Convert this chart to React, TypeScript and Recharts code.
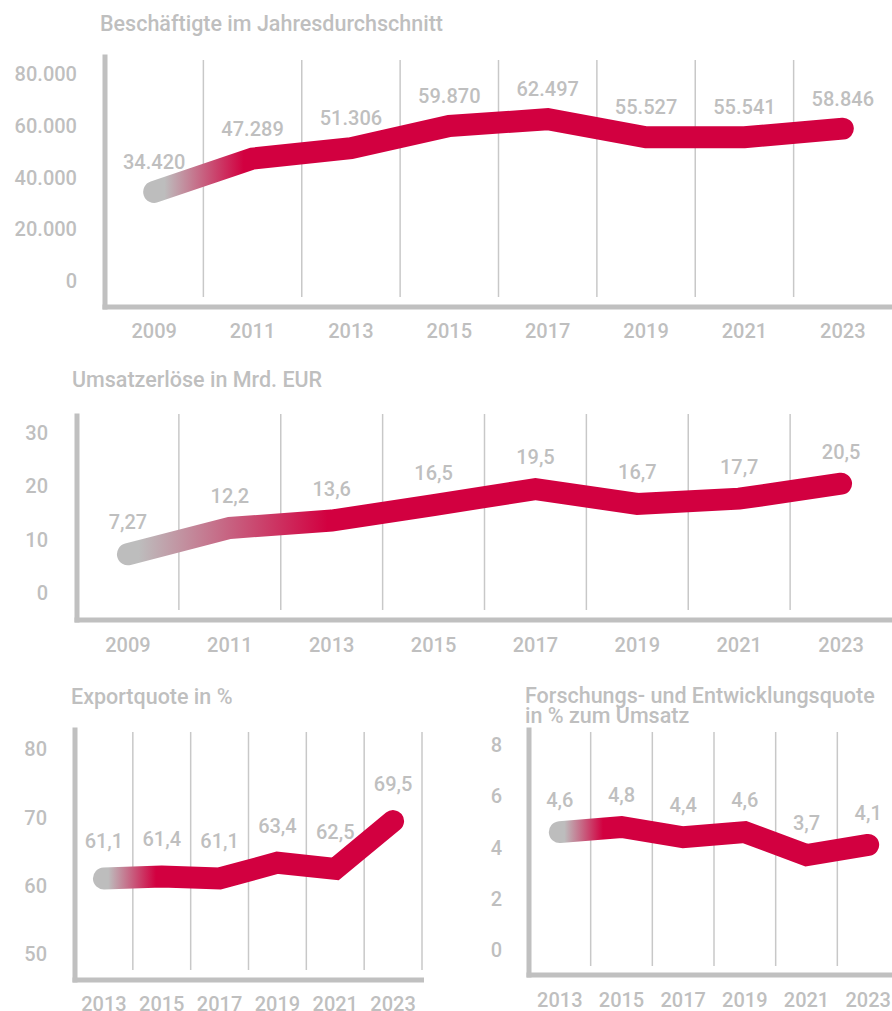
import React from 'react';
import { LineChart, Line, XAxis, YAxis, CartesianGrid, LabelList } from 'recharts';

const RED = '#d20040';
const GREY = '#bdbdbd';
const TEXT = '#bfbfbf';
const AXIS = '#c0c0c0';
const GRID = '#c8c8c8';
const FONT = 'Roboto, "Noto Sans", sans-serif';

// Beschäftigte / Umsatz: 2009–2023
const yearsLong = [2009, 2011, 2013, 2015, 2017, 2019, 2021, 2023];
const gridLong = [2010, 2012, 2014, 2016, 2018, 2020, 2022];
const employees = [34420, 47289, 51306, 59870, 62497, 55527, 55541, 58846];
const employeeTicks = [0, 20000, 40000, 60000, 80000];
const revenue = [7.27, 12.2, 13.6, 16.5, 19.5, 16.7, 17.7, 20.5];
const revenueTicks = [0, 10, 20, 30];

// Exportquote / F&E-Quote: 2013–2023
const yearsShort = [2013, 2015, 2017, 2019, 2021, 2023];
const gridExport = [2014, 2016, 2018, 2020, 2022, 2024];
const gridRnd = [2014, 2016, 2018, 2020, 2022];
const exportQuota = [61.1, 61.4, 61.1, 63.4, 62.5, 69.5];
const exportTicks = [50, 60, 70, 80];
const rndQuota = [4.6, 4.8, 4.4, 4.6, 3.7, 4.1];
const rndTicks = [0, 2, 4, 6, 8];

const fmtThousands = (v: any) => String(v).replace(/\B(?=(\d{3})+(?!\d))/g, '.');
const fmtDecimal = (v: any) => String(v).replace('.', ',');

interface PanelProps {
  id: string;
  left: number;
  top: number;
  width: number;
  height: number;
  plotTop: number;
  plotBottom: number;
  marginRight: number;
  yAxisWidth: number;
  xDomain: [number, number];
  yDomain: [number, number];
  gridTop: number;
  gridBottom: number;
  years: number[];
  values: number[];
  yTicks: number[];
  gridYears: number[];
  fmt: (v: any) => string;
  fadeEnd: number;
  labelOffset: number;
  tickGapY: number;
  tickGapX: number;
}

function Panel(p: PanelProps) {
  const data = p.years.map((year, i) => ({ year, v: p.values[i] }));
  const tickStyle = { fill: TEXT, fontSize: 20, fontWeight: 500, fontFamily: FONT };
  const axisLine = { stroke: AXIS, strokeWidth: 5, strokeLinecap: 'square' as const };
  return (
    <div style={{ position: 'absolute', left: p.left, top: p.top }}>
      <LineChart
        width={p.width}
        height={p.height}
        data={data}
        margin={{ top: p.plotTop, right: p.marginRight, bottom: 0, left: 0 }}
      >
        <defs>
          <linearGradient id={p.id} x1="0" y1="0" x2="1" y2="0">
            <stop offset={0.015} stopColor={GREY} />
            <stop offset={p.fadeEnd} stopColor={RED} />
          </linearGradient>
        </defs>
        <CartesianGrid
          horizontal={false}
          verticalValues={p.gridYears}
          stroke={GRID}
          strokeWidth={1.5}
          y={p.gridTop}
          height={p.gridBottom - p.gridTop}
        />
        <XAxis
          dataKey="year"
          type="number"
          domain={p.xDomain}
          ticks={p.years}
          interval={0}
          allowDataOverflow
          height={p.height - p.plotBottom}
          axisLine={axisLine}
          tickLine={false}
          tickSize={0}
          tickMargin={p.tickGapX}
          tick={tickStyle}
        />
        <YAxis
          type="number"
          domain={p.yDomain}
          ticks={p.yTicks}
          interval={0}
          allowDataOverflow
          width={p.yAxisWidth}
          axisLine={axisLine}
          tickLine={false}
          tickSize={0}
          tickMargin={p.tickGapY}
          tickFormatter={p.fmt}
          tick={tickStyle}
        />
        <Line
          type="linear"
          dataKey="v"
          stroke={`url(#${p.id})`}
          strokeWidth={22}
          strokeLinecap="round"
          dot={false}
          activeDot={false}
          isAnimationActive={false}
        >
          <LabelList
            dataKey="v"
            position="top"
            offset={p.labelOffset}
            formatter={p.fmt}
            fill={TEXT}
            fontSize={20}
            fontWeight={500}
            fontFamily={FONT}
          />
        </Line>
      </LineChart>
    </div>
  );
}

const titleStyle: React.CSSProperties = {
  position: 'absolute',
  color: TEXT,
  fontFamily: FONT,
  fontSize: 21.5,
  fontWeight: 500,
  lineHeight: '20px',
  whiteSpace: 'nowrap',
};

export default function App() {
  return (
    <div
      style={{
        position: 'absolute',
        left: 0,
        top: 0,
        width: 892,
        height: 1011,
        overflow: 'hidden',
        background: '#fff',
        fontFamily: FONT,
      }}
    >
      <div style={{ ...titleStyle, left: 100, top: 14 }}>Beschäftigte im Jahresdurchschnitt</div>
      <Panel
        id="gEmp"
        left={0}
        top={0}
        width={892}
        height={345}
        plotTop={57}
        plotBottom={307}
        marginRight={0}
        yAxisWidth={105}
        xDomain={[2008, 2024]}
        yDomain={[-10000, 86500]}
        gridTop={60}
        gridBottom={297}
        years={yearsLong}
        values={employees}
        yTicks={employeeTicks}
        gridYears={gridLong}
        fmt={fmtThousands}
        fadeEnd={0.13}
        labelOffset={23}
        tickGapY={28}
        tickGapX={17}
      />

      <div style={{ ...titleStyle, left: 72, top: 370 }}>Umsatzerlöse in Mrd. EUR</div>
      <Panel
        id="gRev"
        left={0}
        top={345}
        width={892}
        height={320}
        plotTop={71}
        plotBottom={275}
        marginRight={0}
        yAxisWidth={77}
        xDomain={[2008, 2024]}
        yDomain={[-5.06, 33.2]}
        gridTop={69}
        gridBottom={265}
        years={yearsLong}
        values={revenue}
        yTicks={revenueTicks}
        gridYears={gridLong}
        fmt={fmtDecimal}
        fadeEnd={0.28}
        labelOffset={25}
        tickGapY={29}
        tickGapX={18}
      />

      <div style={{ ...titleStyle, left: 71, top: 687 }}>Exportquote in %</div>
      <Panel
        id="gExp"
        left={0}
        top={670}
        width={424}
        height={341}
        plotTop={60}
        plotBottom={310}
        marginRight={2}
        yAxisWidth={75}
        xDomain={[2012, 2024]}
        yDomain={[46.24, 82.83]}
        gridTop={62}
        gridBottom={300}
        years={yearsShort}
        values={exportQuota}
        yTicks={exportTicks}
        gridYears={gridExport}
        fmt={fmtDecimal}
        fadeEnd={0.18}
        labelOffset={30}
        tickGapY={28}
        tickGapX={17}
      />

      <div style={{ ...titleStyle, left: 525, top: 686 }}>
        Forschungs- und Entwicklungsquote
        <br />
        in % zum Umsatz
      </div>
      <Panel
        id="gRnd"
        left={446}
        top={670}
        width={453}
        height={341}
        plotTop={60}
        plotBottom={305}
        marginRight={0}
        yAxisWidth={83}
        xDomain={[2012, 2024]}
        yDomain={[-0.976, 8.585]}
        gridTop={62}
        gridBottom={296}
        years={yearsShort}
        values={rndQuota}
        yTicks={rndTicks}
        gridYears={gridRnd}
        fmt={fmtDecimal}
        fadeEnd={0.14}
        labelOffset={25}
        tickGapY={27}
        tickGapX={18}
      />
    </div>
  );
}
